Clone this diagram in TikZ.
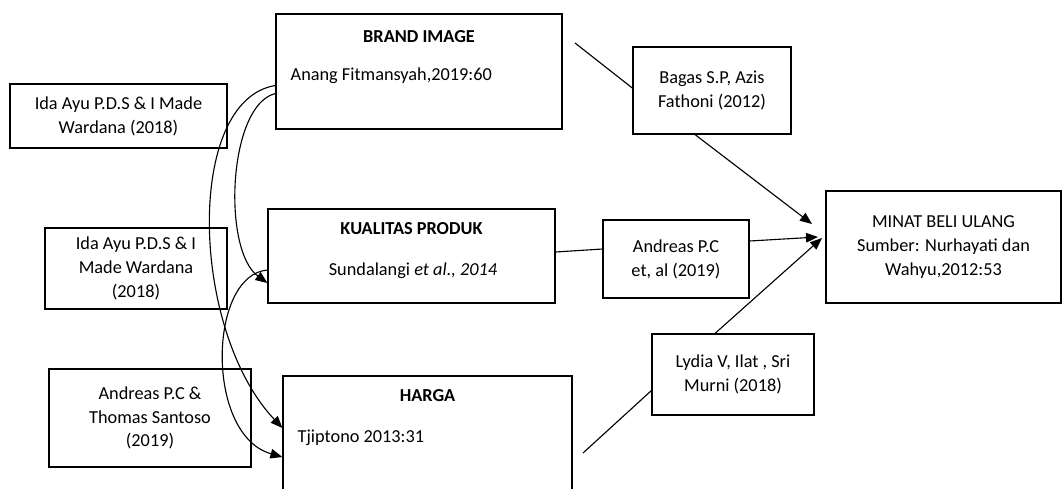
\documentclass[tikz,border=0pt]{standalone}
\usepackage{fontspec}
\setmainfont{Carlito}
\usetikzlibrary{arrows.meta, positioning, calc}
\tikzset{
  bx/.style={rectangle, draw=black, line width=0.8pt, fill=white, inner sep=0pt},
  ref/.style={bx, align=center, font=\fontsize{13}{17}\selectfont},
  ttl/.style={inner sep=1pt, font=\fontsize{13}{17}\selectfont\bfseries},
  sub/.style={inner sep=1pt, font=\fontsize{13}{17}\selectfont},
  ln/.style={line width=0.8pt, draw=black},
  arr/.style={-{Triangle[length=3mm,width=2.4mm]}, line width=0.8pt, draw=black},
}
\begin{document}
\begin{tikzpicture}[x=0.025cm, y=-0.025cm]
  \useasboundingbox (0,0) rectangle (1062,488);
  % main variables
  \node[bx, minimum width=7.15cm, minimum height=2.875cm] (brand) at (419,71.5) {};
  \node[ttl] (brandT) at (419,37) {BRAND IMAGE};
  \node[sub, anchor=west] (brandS) at (289,76) {Anang Fitmansyah,2019:60};
  \node[bx, minimum width=7.175cm, minimum height=2.35cm] (kual) at (411.5,256) {};
  \node[ttl] (kualT) at (411.5,229) {KUALITAS PRODUK};
  \node[sub] (kualS) at (413,271) {Sundalangi \textit{et al., 2014}};
  \node[bx, minimum width=7.225cm, minimum height=3.1cm] (harga) at (427.5,438) {};
  \node[ttl] (hargaT) at (427.5,396) {HARGA};
  \node[sub, anchor=west] (hargaS) at (296,438) {Tjiptono 2013:31};
  \node[ref, minimum width=5.875cm, minimum height=2.8cm] (minat) at (943.5,247)
    {MINAT BELI ULANG\\Sumber: Nurhayati dan\\Wahyu,2012:53};
  % references
  \node[ref, minimum width=5.425cm, minimum height=1.6cm] (ida1) at (118.5,116)
    {Ida Ayu P.D.S \& I Made\\Wardana (2018)};
  \node[ref, minimum width=4.55cm, minimum height=2.025cm] (ida2) at (136,268.5)
    {Ida Ayu P.D.S \& I\\Made Wardana\\(2018)};
  \node[ref, minimum width=5.05cm, minimum height=2.45cm] (andT) at (150,418)
    {Andreas P.C \&\\Thomas Santoso\\(2019)};
  \node[ref, minimum width=3.95cm, minimum height=2.175cm] (bagas) at (712,90.5)
    {Bagas S.P, Azis\\Fathoni (2012)};
  \node[ref, minimum width=3.65cm, minimum height=1.95cm] (andE) at (676,259)
    {Andreas P.C\\et, al (2019)};
  \node[ref, minimum width=4.05cm, minimum height=2.025cm] (lydia) at (733,374.5)
    {Lydia V, Ilat , Sri\\Murni (2018)};
  % free ends
  \coordinate (b1) at (575,43);
  \coordinate (h1) at (583,453);
  \coordinate (m1) at (812,224);
  \coordinate (m2) at (818,237);
  \coordinate (m3) at (822,238);
  % curved arrows
  \draw[arr] ([yshift=-0.55cm]brand.west) .. controls (228,105) and (222,250) .. ([yshift=-0.675cm]kual.west);
  \draw[arr] ([yshift=-0.35cm]brand.west) .. controls (185,100) and (190,330) .. ([yshift=0.25cm]harga.west);
  \draw[arr] ([yshift=-0.35cm]kual.west) .. controls (208,275) and (205,435) .. ([yshift=-0.475cm]harga.west);
  % straight paths
  \draw[ln] (b1) -- ([yshift=0.06cm]bagas.west);
  \draw[arr] ([xshift=-0.425cm]bagas.south) -- (m1);
  \draw[ln] ([yshift=0.1cm]kual.east) -- ([yshift=0.25cm]andE.west);
  \draw[arr] ([yshift=0.45cm]andE.east) -- (m2);
  \draw[ln] (h1) -- ([yshift=-0.4cm]lydia.west);
  \draw[arr] ([xshift=-0.45cm]lydia.north) -- (m3);
\end{tikzpicture}
\end{document}
